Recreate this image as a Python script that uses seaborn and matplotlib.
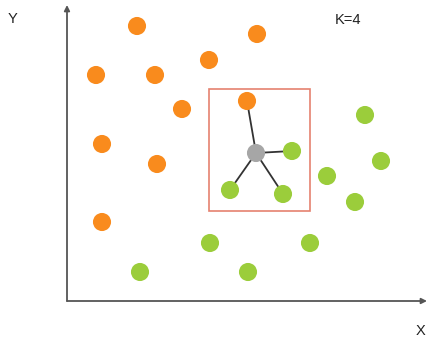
import pandas as pd
import seaborn as sns
from matplotlib import pyplot as plt
from matplotlib.patches import Rectangle

# Point positions (arbitrary units, origin at the axes corner)
orange_x = [7.0, 19.0, 2.9, 8.8, 14.2, 11.5, 18.0, 3.5, 9.0, 3.5]
orange_y = [27.5, 26.7, 22.6, 22.6, 24.1, 19.2, 20.0, 15.7, 13.7, 7.9]
green_x = [29.8, 22.5, 31.4, 26.0, 28.8, 16.3, 21.6, 14.3, 24.3, 7.3, 18.1]
green_y = [18.6, 15.0, 14.0, 12.5, 9.9, 11.1, 10.7, 5.8, 5.8, 2.9, 2.9]

# The new point to classify and its 4 nearest neighbours
query_x, query_y = 18.9, 14.8
neighbours = [(18.0, 20.0), (22.5, 15.0), (16.3, 11.1), (21.6, 10.7)]

# Box around the neighbourhood
box_x0, box_x1 = 14.2, 24.3
box_y0, box_y1 = 9.0, 21.2

x_max, y_max = 36.1, 29.6

df = pd.DataFrame({
    'x': orange_x + green_x,
    'y': orange_y + green_y,
    'cls': ['A'] * len(orange_x) + ['B'] * len(green_x),
})

sns.set_style('white')
plt.rcParams['font.family'] = ['Liberation Sans', 'DejaVu Sans']

fig = plt.figure(figsize=(4.28, 3.42), dpi=100)
ax = fig.add_axes([67 / 428, 41 / 342, 361 / 428, 296 / 342])
ax.set_xlim(0, x_max)
ax.set_ylim(0, y_max)
ax.axis('off')

# lines to the neighbours (under the dots)
for nx, ny in neighbours:
    ax.plot([query_x, nx], [query_y, ny], color='#333333', lw=1.3, zorder=1)

ax.add_patch(Rectangle((box_x0, box_y0), box_x1 - box_x0, box_y1 - box_y0,
                       fill=False, edgecolor='#E5826F', lw=1.2, zorder=0))

sns.scatterplot(data=df, x='x', y='y', hue='cls',
                palette={'A': '#F98B1D', 'B': '#9BCD3B'},
                s=170, edgecolor='none', legend=False, ax=ax, zorder=3)
ax.scatter([query_x], [query_y], s=170, color='#A6A6A6', edgecolor='none', zorder=4)

# axes with arrow heads
arrow = dict(arrowstyle='-|>', color='#555555', lw=1.3, mutation_scale=8,
             shrinkA=0, shrinkB=0)
ax.annotate('', xy=(x_max - 0.1, 0), xytext=(0, 0), arrowprops=arrow,
            annotation_clip=False)
ax.annotate('', xy=(0, y_max), xytext=(0, 0), arrowprops=arrow,
            annotation_clip=False)

fig.text(13 / 428, 1 - 19 / 342, 'Y', fontsize=10.5, ha='center', va='center', color='#222222')
fig.text(421 / 428, 1 - 331 / 342, 'X', fontsize=10.5, ha='center', va='center', color='#222222')
fig.text(348 / 428, 1 - 20 / 342, 'K=4', fontsize=10.5, ha='center', va='center', color='#222222')

fig.savefig('out.png', dpi=100)
